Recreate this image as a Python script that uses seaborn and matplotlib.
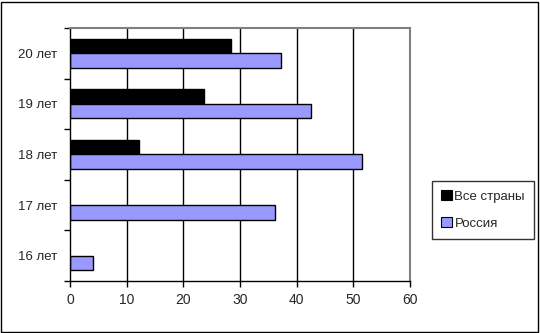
import numpy as np
import pandas as pd
import matplotlib
matplotlib.use("Agg")
import matplotlib.pyplot as plt
import seaborn as sns
from matplotlib.patches import Rectangle, Patch
from matplotlib.ticker import FixedLocator

categories = ["20 лет", "19 лет", "18 лет", "17 лет", "16 лет"]
series_names = ["Все страны", "Россия"]
all_countries = [28.4, 23.7, 12.1, np.nan, np.nan]
russia = [37.3, 42.6, 51.6, 36.2, 4.1]
colors = ["#000000", "#9999FF"]
x_ticks = [0, 10, 20, 30, 40, 50, 60]

df = pd.DataFrame({
    "cat": categories * 2,
    "series": [series_names[0]] * 5 + [series_names[1]] * 5,
    "value": all_countries + russia,
})

sns.set_style("white")
plt.rcParams["font.family"] = ["Liberation Sans", "DejaVu Sans"]

fig = plt.figure(figsize=(5.4, 3.33), dpi=100)
ax = fig.add_axes([70 / 540, (333 - 281) / 333, 340 / 540, (281 - 28) / 333])

sns.barplot(data=df, y="cat", x="value", hue="series", order=categories,
            hue_order=series_names, palette=colors, width=0.57, orient="h",
            edgecolor="black", linewidth=1, saturation=1, ax=ax, legend=False)

ax.set_xlim(0, 60)
ax.set_ylim(4.5, -0.5)
ax.set_xticks(x_ticks)
ax.set_xticklabels([str(t) for t in x_ticks], fontsize=10)
ax.set_xlabel("")
ax.set_ylabel("")
ax.tick_params(axis="y", which="major", length=0, labelsize=9.5, pad=9)
ax.yaxis.set_minor_locator(FixedLocator([-0.5, 0.5, 1.5, 2.5, 3.5, 4.5]))
ax.tick_params(axis="y", which="minor", length=4, width=1, color="black", direction="out", left=True)
ax.tick_params(axis="x", which="major", length=4, width=1, color="black", direction="out", bottom=True, labelsize=10, pad=5)

for t in x_ticks[1:-1]:
    ax.axvline(t, color="black", linewidth=1, zorder=0)
ax.set_axisbelow(True)

for side in ["left", "bottom"]:
    ax.spines[side].set_color("black")
    ax.spines[side].set_linewidth(1)
for side in ["top", "right"]:
    ax.spines[side].set_color("#808080")
    ax.spines[side].set_linewidth(1.5)

handles = [Patch(facecolor=c, edgecolor="black", linewidth=0.8) for c in colors]
leg = fig.legend(handles, series_names, loc="upper left",
                 bbox_to_anchor=(432 / 540, (333 - 181) / 333),
                 frameon=True, fancybox=False, edgecolor="black", fontsize=9.5,
                 handlelength=0.8, handleheight=0.8, handletextpad=0.2,
                 labelspacing=1.1, borderpad=0.7, borderaxespad=0)
leg.get_frame().set_linewidth(1)

fig.patches.append(Rectangle((1 / 540, 1 / 333), 537 / 540, 330 / 333,
                             transform=fig.transFigure, fill=False,
                             edgecolor="black", linewidth=1))

fig.savefig("out.png", dpi=100)
